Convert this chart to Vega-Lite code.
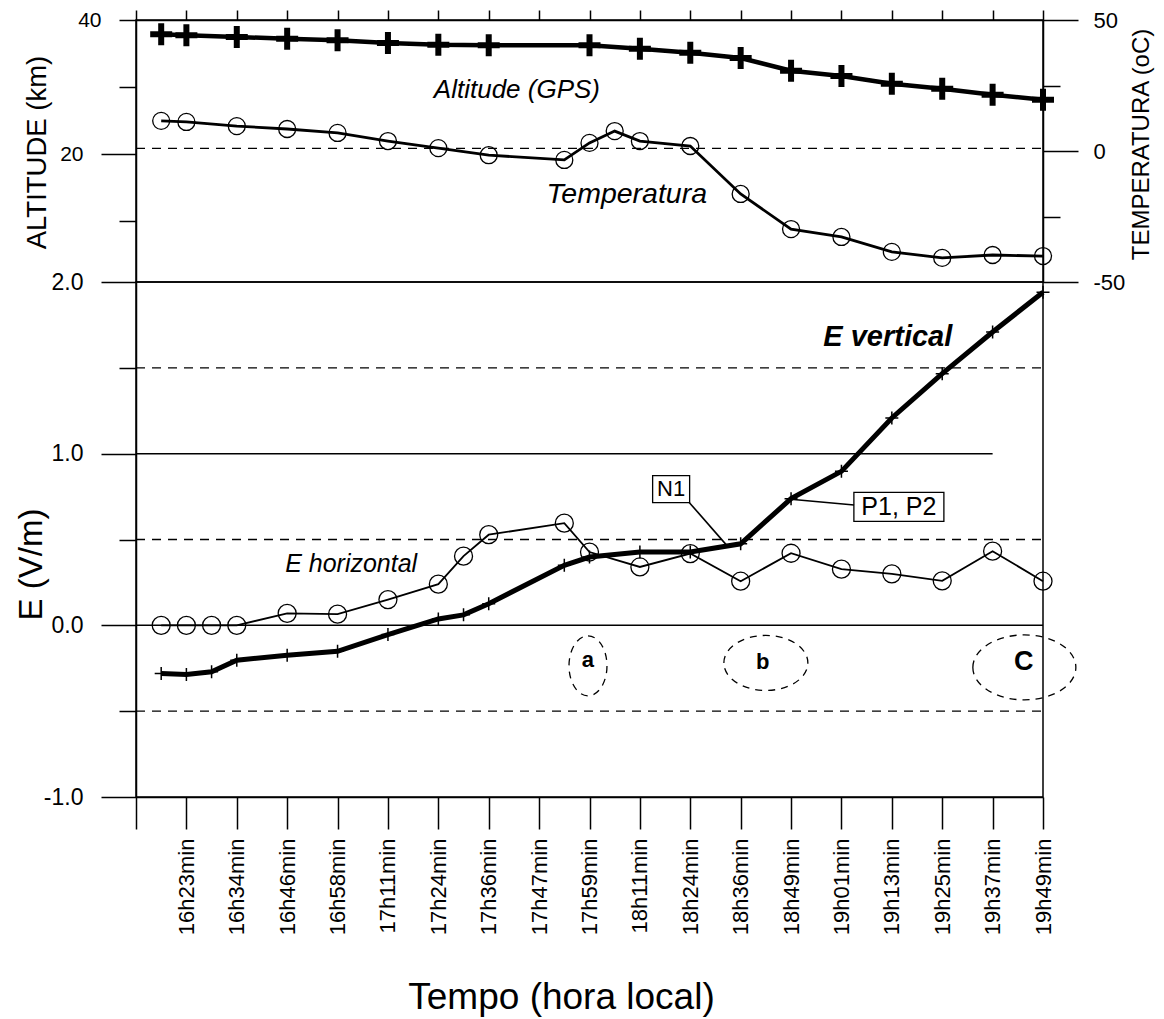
{
  "$schema": "https://vega.github.io/schema/vega-lite/v6.json",
  "background": "white",
  "padding": {"left": 14, "top": 8, "right": 5, "bottom": 2},
  "config": {
    "font": "Liberation Sans",
    "view": {"stroke": "black", "strokeWidth": 1.5},
    "axis": {"labelFont": "Liberation Sans", "titleFont": "Liberation Sans", "titleFontWeight": "normal", "domainColor": "black", "tickColor": "black", "labelColor": "black", "titleColor": "black", "domainWidth": 1.5, "tickWidth": 1.5, "grid": false, "labelOverlap": false, "labelFlush": false},
    "text": {"font": "Liberation Sans", "color": "black"}
  },
  "datasets": {
    "altitude": [
      {"t": 0.5, "alt": 37.87}, {"t": 1, "alt": 37.72}, {"t": 2, "alt": 37.46}, {"t": 3, "alt": 37.21},
      {"t": 4, "alt": 36.97}, {"t": 5, "alt": 36.57}, {"t": 6, "alt": 36.31}, {"t": 7, "alt": 36.22},
      {"t": 9, "alt": 36.22}, {"t": 10, "alt": 35.72}, {"t": 11, "alt": 35.12}, {"t": 12, "alt": 34.33},
      {"t": 13, "alt": 32.42}, {"t": 14, "alt": 31.64}, {"t": 15, "alt": 30.49}, {"t": 16, "alt": 29.75},
      {"t": 17, "alt": 28.85}, {"t": 18, "alt": 28.1}
    ],
    "temperatura": [
      {"t": 0.5, "T": 11.5}, {"t": 1, "T": 11.1}, {"t": 2, "T": 9.5}, {"t": 3, "T": 8.4},
      {"t": 4, "T": 6.9}, {"t": 5, "T": 3.8}, {"t": 6, "T": 1.1}, {"t": 7, "T": -1.6},
      {"t": 8.5, "T": -3.4}, {"t": 9, "T": 3.1}, {"t": 9.5, "T": 7.6}, {"t": 10, "T": 3.8},
      {"t": 11, "T": 1.9}, {"t": 12, "T": -16.4}, {"t": 13, "T": -29.8}, {"t": 14, "T": -32.8},
      {"t": 15, "T": -38.5}, {"t": 16, "T": -40.8}, {"t": 17, "T": -39.7}, {"t": 18, "T": -40.1}
    ],
    "ehorizontal": [
      {"t": 0.5, "E": 0.0}, {"t": 1, "E": 0.0}, {"t": 1.5, "E": 0.0}, {"t": 2, "E": 0.0},
      {"t": 3, "E": 0.07}, {"t": 4, "E": 0.065}, {"t": 5, "E": 0.15}, {"t": 6, "E": 0.24},
      {"t": 6.5, "E": 0.403}, {"t": 7, "E": 0.528}, {"t": 8.5, "E": 0.595}, {"t": 9, "E": 0.427},
      {"t": 10, "E": 0.34}, {"t": 11, "E": 0.418}, {"t": 12, "E": 0.257}, {"t": 13, "E": 0.42},
      {"t": 14, "E": 0.327}, {"t": 15, "E": 0.3}, {"t": 16, "E": 0.259}, {"t": 17, "E": 0.432},
      {"t": 18, "E": 0.257}
    ],
    "evertical": [
      {"t": 0.5, "E": -0.28}, {"t": 1, "E": -0.287}, {"t": 1.5, "E": -0.271}, {"t": 2, "E": -0.203},
      {"t": 3, "E": -0.174}, {"t": 4, "E": -0.151}, {"t": 5, "E": -0.054}, {"t": 6, "E": 0.037},
      {"t": 6.5, "E": 0.061}, {"t": 7, "E": 0.126}, {"t": 8.5, "E": 0.35}, {"t": 9, "E": 0.398},
      {"t": 10, "E": 0.427}, {"t": 11, "E": 0.427}, {"t": 12, "E": 0.475}, {"t": 13, "E": 0.738},
      {"t": 14, "E": 0.897}, {"t": 15, "E": 1.208}, {"t": 16, "E": 1.466}, {"t": 17, "E": 1.709},
      {"t": 18, "E": 1.94}
    ]
  },
  "spacing": 0,
  "bounds": "flush",
  "vconcat": [
    {
      "width": 907,
      "height": 262,
      "layer": [
        {
          "encoding": {
            "x": {"field": "t", "type": "quantitative", "scale": {"domain": [0, 18], "nice": false, "zero": false},
              "axis": {"orient": "top", "values": [0,1,2,3,4,5,6,7,8,9,10,11,12,13,14,15,16,17,18], "labels": false, "tickSize": 10, "title": null}},
            "y": {"field": "alt", "type": "quantitative", "scale": {"domain": [0.9, 40], "nice": false, "zero": false},
              "axis": {"orient": "left", "values": [10, 20, 30, 40], "labelExpr": "datum.value % 20 === 0 ? toString(datum.value) : ''",
                "tickSize": {"condition": {"test": "datum.value === 20", "value": 35}, "value": 17},
                "labelPadding": 18, "labelFontSize": 21, "title": "ALTITUDE (km)", "titleFontSize": 27.5,
                "titleX": -99, "titleY": 132, "titleAngle": 270, "titleBaseline": "middle", "titleAlign": "center"}}
          },
          "layer": [
            {"data": {"name": "altitude"}, "mark": {"type": "line", "color": "black", "strokeWidth": 4.5}},
            {"data": {"name": "altitude"}, "mark": {"type": "point", "shape": "M-1,0H1M0,-1V1", "size": 484, "filled": false, "color": "black", "strokeWidth": 6, "opacity": 1}},
            {"data": {"values": [{"t": 7.56, "alt": 29.55, "label": "Altitude (GPS)"}]},
              "mark": {"type": "text", "fontSize": 26, "fontStyle": "italic", "align": "center", "baseline": "middle"},
              "encoding": {"text": {"field": "label"}}}
          ]
        },
        {
          "encoding": {
            "x": {"field": "t", "type": "quantitative", "scale": {"domain": [0, 18], "nice": false, "zero": false},
              "axis": {"orient": "top", "values": [0,1,2,3,4,5,6,7,8,9,10,11,12,13,14,15,16,17,18], "labels": false, "tickSize": 10, "title": null}},
            "y": {"field": "T", "type": "quantitative", "scale": {"domain": [-50, 50], "nice": false, "zero": false},
              "axis": {"orient": "right", "values": [-50, -25, 0, 25, 50], "labelExpr": "datum.value % 50 === 0 ? toString(datum.value) : ''",
                "tickSize": {"condition": {"test": "datum.value % 50 === 0", "value": 35}, "value": 17},
                "labelPadding": 15, "labelFontSize": 22, "title": "TEMPERATURA (oC)", "titleFontSize": 24,
                "titleX": 98, "titleY": 124, "titleAngle": 270, "titleBaseline": "middle", "titleAlign": "center"}}
          },
          "layer": [
            {"data": {"values": [{"t": 0, "t_end": 18, "T": 1}]},
              "mark": {"type": "rule", "color": "black", "strokeWidth": 1.3, "strokeDash": [9, 7]},
              "encoding": {"x2": {"field": "t_end"}}},
            {"data": {"name": "temperatura"}, "mark": {"type": "line", "color": "black", "strokeWidth": 2.8}},
            {"data": {"name": "temperatura"}, "mark": {"type": "point", "shape": "circle", "size": 289, "filled": false, "color": "black", "strokeWidth": 1.3, "opacity": 1}},
            {"data": {"values": [{"t": 9.74, "T": -16.4, "label": "Temperatura"}]},
              "mark": {"type": "text", "fontSize": 28.5, "fontStyle": "italic", "align": "center", "baseline": "middle"},
              "encoding": {"text": {"field": "label"}}}
          ]
        }
      ],
      "resolve": {"scale": {"y": "independent"}}
    },
    {
      "width": 907,
      "height": 515,
      "encoding": {
        "x": {"field": "t", "type": "quantitative", "scale": {"domain": [0, 18], "nice": false, "zero": false},
          "axis": {"orient": "bottom", "values": [0,1,2,3,4,5,6,7,8,9,10,11,12,13,14,15,16,17,18],
            "labelExpr": "['','16h23min','16h34min','16h46min','16h58min','17h11min','17h24min','17h36min','17h47min','17h59min','18h11min','18h24min','18h36min','18h49min','19h01min','19h13min','19h25min','19h37min','19h49min'][round(datum.value)]",
            "labelAngle": 270, "labelFontSize": 22, "labelPadding": 9, "tickSize": 32,
            "title": "Tempo (hora local)", "titleFontSize": 37, "titleX": 425, "titleY": 200, "titleBaseline": "middle", "titleAlign": "center"}},
        "y": {"field": "E", "type": "quantitative", "scale": {"domain": [-1, 2], "nice": false, "zero": false},
          "axis": {"orient": "left", "values": [-1, -0.5, 0, 0.5, 1, 1.5, 2],
            "labelExpr": "abs(datum.value - round(datum.value)) < 0.01 ? replace(format(datum.value, '.1f'), '\u2212', '-') : ''",
            "tickSize": {"condition": {"test": "abs(datum.value - round(datum.value)) < 0.01", "value": 35}, "value": 17},
            "labelPadding": 18, "labelFontSize": 23, "title": "E (V/m)", "titleFontSize": 33,
            "titleX": -105, "titleY": 282, "titleAngle": 270, "titleBaseline": "middle", "titleAlign": "center"}}
      },
      "layer": [
        {"data": {"values": [{"t": 0, "t_end": 18, "E": 1.5}, {"t": 0, "t_end": 18, "E": 0.5}, {"t": 0, "t_end": 18, "E": -0.5}]},
          "mark": {"type": "rule", "color": "black", "strokeWidth": 1.3, "strokeDash": [9, 7]},
          "encoding": {"x2": {"field": "t_end"}}},
        {"data": {"values": [{"t": 0, "t_end": 17, "E": 1.0}, {"t": 0, "t_end": 18, "E": 0.0}]},
          "mark": {"type": "rule", "color": "black", "strokeWidth": 1.5},
          "encoding": {"x2": {"field": "t_end"}}},
        {"data": {"name": "ehorizontal"}, "mark": {"type": "line", "color": "black", "strokeWidth": 1.8}},
        {"data": {"name": "ehorizontal"}, "mark": {"type": "point", "shape": "circle", "size": 324, "filled": false, "color": "black", "strokeWidth": 1.3, "opacity": 1}},
        {"data": {"name": "evertical"}, "mark": {"type": "line", "color": "black", "strokeWidth": 5}},
        {"data": {"name": "evertical"}, "mark": {"type": "point", "shape": "M-1,0H1M0,-1V1", "size": 169, "filled": false, "color": "black", "strokeWidth": 1.5, "opacity": 1}},
        {"data": {"values": [{"t": 10.97, "E": 0.719, "t2": 11.75, "E2": 0.457}, {"t": 12.94, "E": 0.736, "t2": 14.25, "E2": 0.701}]},
          "mark": {"type": "rule", "color": "black", "strokeWidth": 1.6},
          "encoding": {"x2": {"field": "t2"}, "y2": {"field": "E2"}}},
        {"data": {"values": [{"t": 10.62, "E": 0.794}]},
          "mark": {"type": "point", "shape": "M-1,-0.73H1V0.73H-1Z", "size": 1369, "filled": false, "color": "black", "strokeWidth": 1.3, "opacity": 1}},
        {"data": {"values": [{"t": 15.14, "E": 0.69}]},
          "mark": {"type": "point", "shape": "M-1,-0.322H1V0.322H-1Z", "size": 8100, "filled": false, "color": "black", "strokeWidth": 1.3, "opacity": 1}},
        {"data": {"values": [{"t": 8.97, "E": -0.236}]},
          "mark": {"type": "point", "shape": "M0,-1A0.633,1,0,1,1,0,1A0.633,1,0,1,1,0,-1Z", "size": 3600, "filled": false, "color": "black", "strokeWidth": 1.3, "strokeDash": [7, 6], "opacity": 1}},
        {"data": {"values": [{"t": 12.5, "E": -0.219}]},
          "mark": {"type": "point", "shape": "M-1,0A1,0.655,0,1,1,1,0A1,0.655,0,1,1,-1,0Z", "size": 7056, "filled": false, "color": "black", "strokeWidth": 1.3, "strokeDash": [7, 6], "opacity": 1}},
        {"data": {"values": [{"t": 17.63, "E": -0.245}]},
          "mark": {"type": "point", "shape": "M-1,0A1,0.631,0,1,1,1,0A1,0.631,0,1,1,-1,0Z", "size": 10609, "filled": false, "color": "black", "strokeWidth": 1.3, "strokeDash": [7, 6], "opacity": 1}},
        {"data": {"values": [{"t": 4.27, "E": 0.358, "label": "E horizontal"}]},
          "mark": {"type": "text", "fontSize": 25, "fontStyle": "italic", "align": "center", "baseline": "middle"},
          "encoding": {"text": {"field": "label"}}},
        {"data": {"values": [{"t": 14.92, "E": 1.68, "label": "E vertical"}]},
          "mark": {"type": "text", "fontSize": 29, "fontStyle": "italic", "fontWeight": "bold", "align": "center", "baseline": "middle"},
          "encoding": {"text": {"field": "label"}}},
        {"data": {"values": [{"t": 10.62, "E": 0.794, "label": "N1"}]},
          "mark": {"type": "text", "fontSize": 22, "align": "center", "baseline": "middle"},
          "encoding": {"text": {"field": "label"}}},
        {"data": {"values": [{"t": 15.14, "E": 0.69, "label": "P1, P2"}]},
          "mark": {"type": "text", "fontSize": 25, "align": "center", "baseline": "middle"},
          "encoding": {"text": {"field": "label"}}},
        {"data": {"values": [{"t": 8.97, "E": -0.2, "label": "a"}, {"t": 12.44, "E": -0.213, "label": "b"}]},
          "mark": {"type": "text", "fontSize": 22, "fontWeight": "bold", "align": "center", "baseline": "middle"},
          "encoding": {"text": {"field": "label"}}},
        {"data": {"values": [{"t": 17.62, "E": -0.213, "label": "C"}]},
          "mark": {"type": "text", "fontSize": 27, "fontWeight": "bold", "align": "center", "baseline": "middle"},
          "encoding": {"text": {"field": "label"}}}
      ]
    }
  ]
}
